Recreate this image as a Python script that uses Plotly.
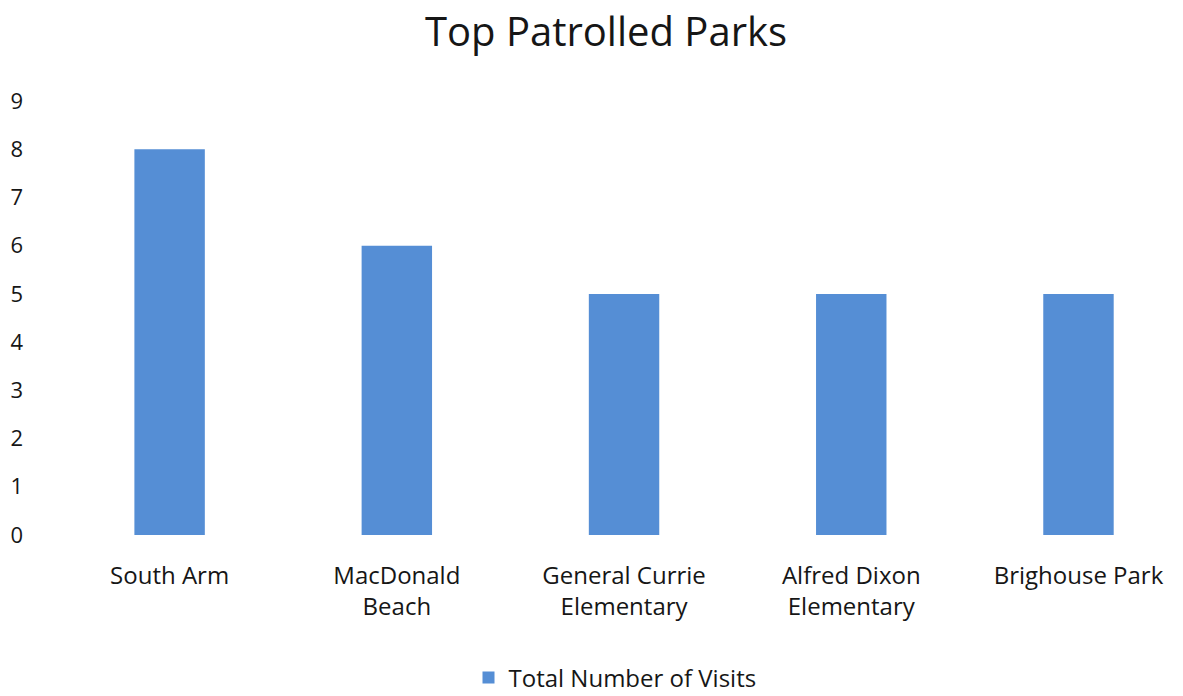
import plotly.graph_objects as go

parks = ["South Arm", "MacDonald<br>Beach", "General Currie<br>Elementary",
         "Alfred Dixon<br>Elementary", "Brighouse Park"]
visits = [8, 6, 5, 5, 5]
y_ticks = list(range(0, 10))
series_name = "Total Number of Visits"

bar_color = "#558ED5"
text_color = "#161616"
font_family = "'Open Sans', Lato, sans-serif"

fig = go.Figure(
    go.Bar(
        x=list(range(len(parks))),
        y=visits,
        name=series_name,
        marker=dict(color=bar_color, line=dict(width=0)),
        showlegend=True,
    )
)

fig.update_layout(
    width=1183,
    height=696,
    paper_bgcolor="white",
    plot_bgcolor="white",
    margin=dict(l=56, r=0, t=101, b=161),
    bargap=0.69,
    font=dict(family=font_family, color=text_color),
    title=dict(
        text="Top Patrolled Parks",
        x=606 / 1183,
        xanchor="center",
        xref="container",
        y=1 - 32 / 696,
        yanchor="middle",
        yref="container",
        font=dict(size=40, color=text_color, family=font_family),
    ),
    legend=dict(
        orientation="h",
        xref="container",
        yref="container",
        x=615 / 1183,
        xanchor="center",
        y=1 - 678 / 696,
        yanchor="middle",
        font=dict(size=24, color=text_color),
        itemwidth=30,
    ),
)

fig.update_xaxes(
    tickmode="array",
    tickvals=list(range(len(parks))),
    ticktext=parks,
    range=[-0.5, 4.46],
    showgrid=False,
    showline=False,
    zeroline=False,
    ticks="",
    tickfont=dict(size=24, color=text_color),
    ticklabelstandoff=24,
)

fig.update_yaxes(
    range=[0, 9],
    tickmode="array",
    tickvals=y_ticks,
    ticktext=[str(v) for v in y_ticks],
    showgrid=False,
    showline=False,
    zeroline=False,
    ticks="",
    tickfont=dict(size=22, color=text_color),
    ticklabelstandoff=32,
)

fig.write_html("out.html")
